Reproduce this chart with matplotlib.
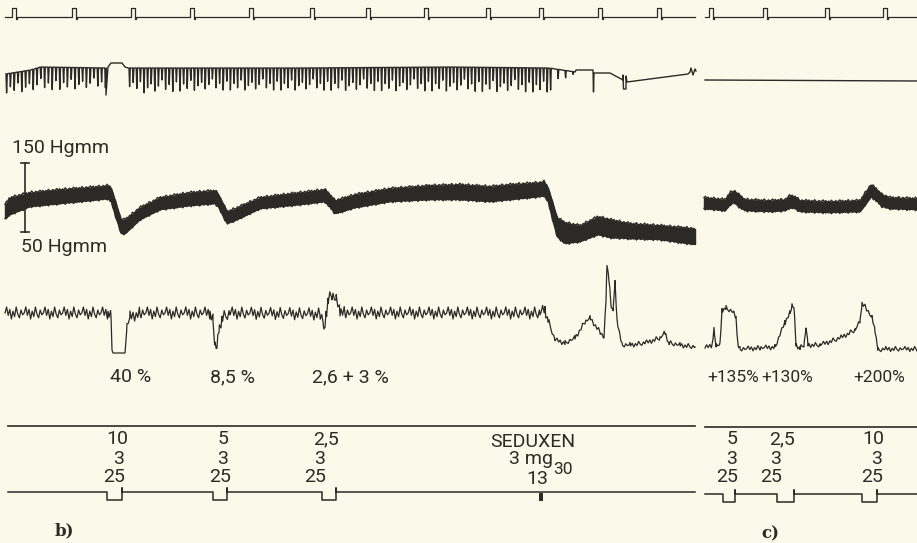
import numpy as np
import matplotlib.pyplot as plt

# paper coordinates: x along the recording, y downwards on the sheet
W, H = 917, 543
ink = '#2b2a26'
paper = '#fbf9ea'

# time marker pulses
tm_left_x = [12, 72, 131, 190, 249, 310, 366, 424, 486, 539, 598, 657]
tm_right_x = [709, 763, 825, 883]
tm_y = 17

# respiration: top of trace and depth of the breath spikes
resp_top_x = [5, 30, 40, 106, 128, 300, 450, 548, 575]
resp_top_y = [74, 70, 67, 68, 68, 68, 67, 68, 72]
resp_bot_x = [5, 40, 100, 128, 140, 200, 300, 450, 548, 560, 575]
resp_bot_y = [93, 90, 88, 86, 93, 90, 90, 91, 92, 80, 76]
depth_mix = [1.0, 0.7, 0.9, 0.55, 1.0, 0.8, 0.65, 0.95, 0.75, 0.5, 0.9, 0.7, 1.0, 0.6]
apnea_x = [106, 108, 111, 122, 125, 128]
apnea_y = [95, 67, 63, 63, 67, 68]
resp_end_x = [575, 576, 593, 593.5, 594, 610, 623, 623, 623.5, 626, 626, 627, 688, 690, 691, 693, 695, 696]
resp_end_y = [72, 70, 70, 92, 73, 73, 80, 75, 89, 89, 76, 82, 74, 72, 68, 75, 69, 71]
resp_right_x = [705, 917]
resp_right_y = [80, 81]

# blood pressure band (upper / lower edge)
bp_left_x = [5, 10, 30, 60, 100, 108, 111, 121, 125, 140, 160, 190, 215, 218, 227, 235, 260, 300,
             325, 330, 335, 342, 355, 390, 430, 460, 490, 510, 540, 544, 548, 557, 565, 580, 598,
             610, 630, 660, 695]
bp_left_top = [205, 198, 193, 190, 187, 186, 188, 220, 220, 208, 198, 193, 191, 194, 212, 209, 198, 193,
               190, 195, 201, 199, 195, 189, 186, 185, 187, 185, 183, 182, 188, 218, 223, 226, 217,
               220, 224, 226, 229]
bp_left_bot = [218, 214, 206, 203, 199, 198, 201, 233, 233, 219, 209, 205, 203, 206, 223, 220, 208, 204,
               201, 207, 213, 211, 207, 201, 199, 199, 201, 199, 196, 195, 201, 236, 243, 241, 234,
               237, 238, 239, 244]
bp_right_x = [704, 725, 730, 734, 740, 745, 770, 785, 790, 795, 800, 830, 860, 866, 871, 876, 882, 890, 917]
bp_right_top = [198, 200, 193, 191, 196, 200, 201, 200, 196, 197, 201, 202, 201, 192, 185, 189, 195, 198, 199]
bp_right_bot = [208, 210, 204, 202, 207, 210, 211, 210, 207, 208, 211, 212, 211, 203, 196, 200, 206, 208, 209]

# lower trace (tone), centre line
tone_left_x = [5, 108, 111, 112, 113, 125, 127, 130, 140, 210, 213, 215, 217, 219, 222, 230, 320, 323,
               324, 326, 328, 332, 336, 340, 345, 540, 545, 548, 555, 565, 575, 585, 590, 600, 604,
               606, 607, 609, 611, 613, 615, 617, 622, 630, 645, 660, 665, 669, 680, 695]
tone_left_y = [313, 313, 315, 350, 353, 353, 325, 317, 313, 313, 320, 345, 348, 330, 318, 313, 314, 320,
               335, 315, 300, 295, 300, 310, 313, 313, 310, 320, 340, 343, 338, 322, 318, 332, 338,
               300, 263, 280, 305, 310, 283, 320, 345, 345, 343, 338, 333, 343, 345, 347]
tone_right_x = [705, 712, 714, 716, 720, 722, 726, 733, 736, 738, 740, 760, 775, 780, 785, 790, 792,
                794, 796, 800, 804, 806, 808, 820, 840, 855, 860, 862, 866, 872, 875, 878, 885, 917]
tone_right_y = [348, 345, 330, 345, 345, 310, 308, 312, 318, 345, 349, 348, 347, 335, 322, 313, 305,
                308, 345, 348, 345, 328, 345, 345, 338, 330, 322, 303, 308, 318, 330, 350, 349, 349]
tone_amp_x = [5, 110, 112, 126, 128, 545, 550, 695]
tone_amp = [6, 6, 0, 0, 6, 6, 2.5, 2.5]
jitter = [0, -1, 0.4, -0.6, 1, -0.3, 0.6, -1, 0.2, 0.8, -0.5, 0.3]

pct_labels = ['40 %', '8,5 %', '2,6 + 3 %', '+135%', '+130%', '+200%']
pct_x = [131, 232, 350, 733, 787, 879]

# stimulus marks: dose / concentration / duration
stim_left = [(107, 122), (213, 227), (322, 336)]
stim_right = [(723, 735), (777, 794), (862, 877)]
dose_top = ['10', '5', '2,5', '5', '2,5', '10']
dose_top_x = [117, 223, 326, 732, 782, 873]
dose_mid_x = [119, 223, 320, 732, 776, 877]
dose_bot_x = [114, 220, 315, 727, 771, 872]

fig = plt.figure(figsize=(W / 100, H / 100), dpi=100, facecolor=paper)
ax = fig.add_axes([0, 0, 1, 1])
ax.set_xlim(0, W)
ax.set_ylim(H, 0)
ax.axis('off')
ax.set_facecolor(paper)

font = dict(family='Roboto', color=ink, fontsize=14)

# time marker
def marker_line(x0, x1, pulses, y):
    xs, ys = [x0], [y]
    for p in pulses:
        xs += [p, p, p + 4, p + 4, p + 5, p + 5]
        ys += [y, y - 9, y - 9, y + 2, y + 2, y]
    xs.append(x1)
    ys.append(y)
    ax.plot(xs, ys, color=ink, lw=0.9)

marker_line(5, 695, tm_left_x, tm_y)
marker_line(705, 917, tm_right_x, tm_y)

# respiration with breath spikes
def breaths(start, stop, step):
    xs, ys = [], []
    for i, b in enumerate(np.arange(start, stop, step)):
        t = np.interp(b, resp_top_x, resp_top_y)
        d = np.interp(b, resp_bot_x, resp_bot_y)
        d = t + (d - t) * depth_mix[i % len(depth_mix)]
        xs += [b, b + 0.6, b + 1.3]
        ys += [t, d, t]
    return xs, ys

x1, y1 = breaths(6, 105, 3.8)
x2, y2 = breaths(129, 548, 3.6)
x3, y3 = breaths(550, 575, 7.5)
ax.plot(x1 + apnea_x + x2 + x3 + resp_end_x, y1 + apnea_y + y2 + y3 + resp_end_y, color=ink, lw=1.0)
ax.plot(resp_right_x, resp_right_y, color=ink, lw=1.0)

# blood pressure, edges roughened by the pulse beats
def band(xs_, top, bot):
    ax.fill_between(xs_, top, bot, color=ink, lw=1.0, edgecolor=ink)
    xs = np.arange(xs_[0], xs_[-1], 1.4)
    j = np.array([jitter[i % len(jitter)] for i in range(len(xs))])
    ax.plot(xs, np.interp(xs, xs_, top) + 1.3 * j - 0.5, color=ink, lw=1.0)
    ax.plot(xs, np.interp(xs, xs_, bot) - 1.3 * j + 0.5, color=ink, lw=1.0)

band(bp_left_x, bp_left_top, bp_left_bot)
band(bp_right_x, bp_right_top, bp_right_bot)
ax.plot([25, 25], [163, 232], color=ink, lw=1.2)
ax.plot([21, 29], [163, 163], color=ink, lw=1.2)
ax.plot([21, 29], [232, 232], color=ink, lw=1.2)
ax.text(12, 148, '150 Hgmm', va='center', ha='left', **font)
ax.text(21, 247, '50 Hgmm', va='center', ha='left', **font)

# lower trace
def tone(xs_, ys_, amp_x, amp_y):
    xs = np.arange(xs_[0], xs_[-1], 1.6)
    xs = np.union1d(xs, xs_)
    ys = np.interp(xs, xs_, ys_)
    amp = np.interp(xs, amp_x, amp_y)
    j = np.array([jitter[i % len(jitter)] for i in range(len(xs))])
    ax.plot(xs, ys + amp * j, color=ink, lw=0.9)

tone(tone_left_x, tone_left_y, tone_amp_x, tone_amp)
tone(tone_right_x, tone_right_y, [705, 917], [2.5, 2.5])

for lab, x in zip(pct_labels, pct_x):
    size = 12.5 if lab.startswith('+') else 14
    ax.text(x, 377, lab, ha='center', va='center', **{**font, 'fontsize': size})

# stimulus panel
ax.plot([8, 695], [426, 426], color=ink, lw=1.2)
ax.plot([705, 917], [427, 427], color=ink, lw=1.2)

def stim_line(x0, x1, pulses, y):
    xs, ys = [x0], [y]
    for a, b in pulses:
        xs += [a, a, b, b, b]
        ys += [y, y + 8, y + 8, y - 4, y]
    xs.append(x1)
    ys.append(y)
    ax.plot(xs, ys, color=ink, lw=1.1)

stim_line(8, 695, stim_left, 492)
stim_line(705, 917, stim_right, 494)
ax.bar(541, 8, width=4, bottom=493, color=ink)

for lab, xt, xm, xb in zip(dose_top, dose_top_x, dose_mid_x, dose_bot_x):
    ax.text(xt, 439, lab, ha='center', va='center', **font)
    ax.text(xm, 459, '3', ha='center', va='center', **font)
    ax.text(xb, 477, '25', ha='center', va='center', **font)

ax.text(533, 442, 'SEDUXEN', ha='center', va='center', **font)
ax.text(531, 459, '3 mg', ha='center', va='center', **font)
ax.text(537, 479, '13', ha='center', va='center', **font)
ax.text(563, 469, '30', ha='center', va='center', **{**font, 'fontsize': 12.5})

ax.text(64, 531, 'b)', ha='center', va='center', family='DejaVu Serif', weight='bold', fontsize=12, color=ink)
ax.text(770, 534, 'c)', ha='center', va='center', family='DejaVu Serif', weight='bold', fontsize=12, color=ink)

fig.savefig('out.png', dpi=100, facecolor=paper)
